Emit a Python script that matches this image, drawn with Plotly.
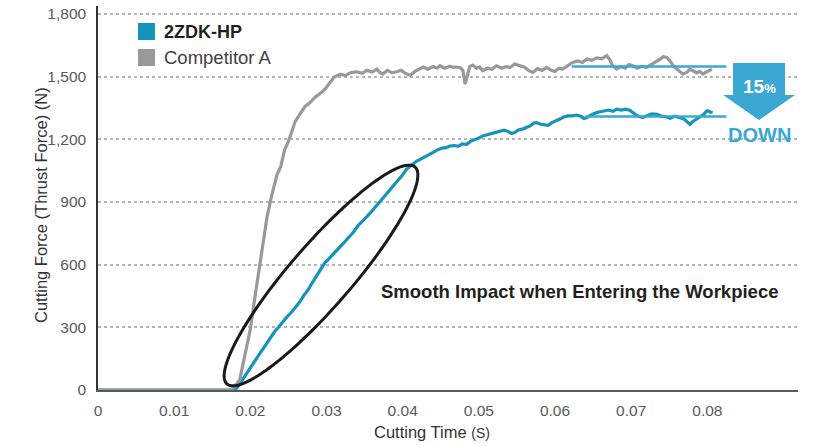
import math
import plotly.graph_objects as go

# ---- data -----------------------------------------------------------------
# Competitor A thrust force (N) against cutting time (s)
comp_time = [0, 0.0175, 0.0180, 0.0186, 0.0193, 0.0200, 0.0205, 0.0210, 0.0216, 0.0222,
             0.0228, 0.0235, 0.0240, 0.0245, 0.0250, 0.0255, 0.0259, 0.0265, 0.0272, 0.0278,
             0.0285, 0.0290, 0.0294, 0.0299, 0.0304, 0.0310, 0.0318, 0.0325, 0.0332, 0.0340,
             0.0347, 0.0353, 0.0360, 0.0366, 0.0370, 0.0374, 0.0380, 0.0386, 0.0392, 0.0398,
             0.0404, 0.0410, 0.0416, 0.0422, 0.0427, 0.0433, 0.0440, 0.0445, 0.0449, 0.0455,
             0.0462, 0.0467, 0.0471, 0.0476, 0.0479, 0.0482, 0.0485, 0.0488, 0.0492, 0.0497,
             0.0501, 0.0505, 0.0511, 0.0517, 0.0523, 0.0530, 0.0536, 0.0541, 0.0547, 0.0554,
             0.0560, 0.0565, 0.0571, 0.0577, 0.0583, 0.0589, 0.0595, 0.0600, 0.0605, 0.0610,
             0.0616, 0.0623, 0.0630, 0.0636, 0.0642, 0.0648, 0.0655, 0.0661, 0.0668, 0.0672,
             0.0676, 0.0681, 0.0686, 0.0692, 0.0697, 0.0702, 0.0708, 0.0714, 0.0720, 0.0726,
             0.0732, 0.0738, 0.0742, 0.0747, 0.0752, 0.0756, 0.0760, 0.0764, 0.0768, 0.0773,
             0.0777, 0.0781, 0.0786, 0.0790, 0.0794, 0.0798, 0.0802, 0.0806]
comp_force = [0, 0, 20, 48, 170, 290, 420, 545, 690, 830,
              930, 1030, 1070, 1150, 1190, 1240, 1286, 1320, 1358, 1375,
              1402, 1415, 1426, 1445, 1472, 1498, 1512, 1505, 1520, 1523,
              1516, 1530, 1522, 1536, 1520, 1512, 1530, 1518, 1523, 1530,
              1515, 1507, 1525, 1538, 1546, 1535, 1548, 1540, 1552, 1540,
              1550, 1544, 1546, 1542, 1530, 1464, 1510, 1548, 1555, 1540,
              1546, 1528, 1540, 1535, 1552, 1540, 1548, 1544, 1560, 1552,
              1545, 1530, 1520, 1538, 1530, 1544, 1530, 1525, 1540, 1536,
              1552, 1568, 1575, 1568, 1584, 1578, 1590, 1585, 1600, 1580,
              1550, 1536, 1548, 1540, 1558, 1552, 1540, 1550, 1544, 1556,
              1570, 1584, 1595, 1592, 1570, 1548, 1536, 1525, 1512, 1520,
              1535, 1528, 1518, 1525, 1512, 1520, 1530, 1536]

# 2ZDK-HP thrust force (N) against cutting time (s)
zdk_time = [0, 0.0180, 0.0186, 0.0192, 0.0200, 0.0207, 0.0213, 0.0220, 0.0226, 0.0232,
            0.0237, 0.0243, 0.0248, 0.0254, 0.0260, 0.0265, 0.0270, 0.0276, 0.0282, 0.0287,
            0.0292, 0.0298, 0.0303, 0.0309, 0.0314, 0.0318, 0.0323, 0.0329, 0.0335, 0.0341,
            0.0347, 0.0353, 0.0358, 0.0364, 0.0370, 0.0376, 0.0381, 0.0387, 0.0393, 0.0399,
            0.0405, 0.0410, 0.0414, 0.0418, 0.0423, 0.0428, 0.0434, 0.0440, 0.0446, 0.0452,
            0.0457, 0.0462, 0.0468, 0.0473, 0.0478, 0.0484, 0.0489, 0.0495, 0.0500, 0.0505,
            0.0511, 0.0517, 0.0522, 0.0528, 0.0533, 0.0538, 0.0543, 0.0547, 0.0552, 0.0558,
            0.0563, 0.0568, 0.0572, 0.0576, 0.0581, 0.0586, 0.0591, 0.0596, 0.0602, 0.0607,
            0.0612, 0.0617, 0.0623, 0.0628, 0.0634, 0.0638, 0.0642, 0.0648, 0.0655, 0.0663,
            0.0670, 0.0676, 0.0681, 0.0687, 0.0692, 0.0698, 0.0703, 0.0708, 0.0715, 0.0720,
            0.0727, 0.0734, 0.0740, 0.0746, 0.0751, 0.0757, 0.0764, 0.0769, 0.0773, 0.0777,
            0.0781, 0.0786, 0.0790, 0.0795, 0.0799, 0.0801, 0.0804, 0.0807]
zdk_force = [0, 0, 28, 62, 110, 145, 178, 215, 250, 280,
             300, 330, 350, 372, 400, 422, 452, 480, 518, 545,
             575, 610, 628, 650, 672, 686, 705, 730, 754, 785,
             805, 830, 850, 875, 898, 925, 945, 974, 1000, 1025,
             1056, 1070, 1080, 1095, 1104, 1115, 1128, 1137, 1150, 1158,
             1160, 1168, 1170, 1166, 1178, 1176, 1190, 1198, 1206, 1216,
             1222, 1230, 1236, 1240, 1244, 1238, 1228, 1232, 1245, 1250,
             1256, 1265, 1278, 1280, 1272, 1270, 1267, 1280, 1288, 1298,
             1308, 1312, 1312, 1316, 1310, 1300, 1304, 1318, 1328, 1336,
             1340, 1334, 1344, 1340, 1344, 1339, 1326, 1312, 1304, 1310,
             1322, 1320, 1310, 1308, 1301, 1310, 1304, 1298, 1285, 1272,
             1285, 1296, 1304, 1318, 1335, 1336, 1330, 1328]

# steady-state levels
comp_plateau = 1549
zdk_plateau = 1309
comp_plateau_span = [0.0622, 0.0825]
zdk_plateau_span = [0.0640, 0.0825]

x_tickvals = [0, 0.01, 0.02, 0.03, 0.04, 0.05, 0.06, 0.07, 0.08]
x_ticktext = ["0", "0.01", "0.02", "0.03", "0.04", "0.05", "0.06", "0.07", "0.08"]
y_tickvals = [0, 300, 600, 900, 1200, 1500, 1800]

series_names = ["2ZDK-HP", "Competitor A"]

# ---- styling --------------------------------------------------------------
W, H = 817, 446
M_L, M_R, M_T, M_B = 98, 19, 6, 56
X_RANGE = [0, 0.0919]
Y_RANGE = [0, 1838]
PW, PH = W - M_L - M_R, H - M_T - M_B

BLUE = "#1593b8"
BLUE_LIGHT = "#3aa8d2"
GRAY = "#98999d"
FONT = "Liberation Sans, Arial, sans-serif"

drop_pct = round((1 - zdk_plateau / comp_plateau) * 100)


def px_to_data(px, py):
    """Convert page pixels to data coordinates of the plot area."""
    t = X_RANGE[0] + (px - M_L) / PW * (X_RANGE[1] - X_RANGE[0])
    f = Y_RANGE[0] + (M_T + PH - py) / PH * (Y_RANGE[1] - Y_RANGE[0])
    return t, f


def data_to_px(t, f):
    px = M_L + (t - X_RANGE[0]) / (X_RANGE[1] - X_RANGE[0]) * PW
    py = M_T + PH - (f - Y_RANGE[0]) / (Y_RANGE[1] - Y_RANGE[0]) * PH
    return px, py


def paper(px, py):
    return (px - M_L) / PW, (M_T + PH - py) / PH


fig = go.Figure()

fig.add_trace(go.Scatter(x=zdk_time, y=zdk_force, mode="lines", name=series_names[0],
                         line=dict(color=BLUE, width=3.2), cliponaxis=False, showlegend=False))
fig.add_trace(go.Scatter(x=comp_time, y=comp_force, mode="lines", name=series_names[1],
                         line=dict(color=GRAY, width=3.2), cliponaxis=False, showlegend=False))

# plateau reference lines
fig.add_trace(go.Scatter(x=comp_plateau_span, y=[comp_plateau] * 2, mode="lines",
                         line=dict(color=BLUE_LIGHT, width=2.5), showlegend=False))
fig.add_trace(go.Scatter(x=zdk_plateau_span, y=[zdk_plateau] * 2, mode="lines",
                         line=dict(color=BLUE_LIGHT, width=2.5), showlegend=False))

shapes = []

# ellipse around the entry phase of 2ZDK-HP
ell_a = px_to_data(227, 384)
ell_b = px_to_data(415, 167)
p1 = data_to_px(*ell_a)
p2 = data_to_px(*ell_b)
cx, cy = (p1[0] + p2[0]) / 2, (p1[1] + p2[1]) / 2
semi_major = math.hypot(p2[0] - p1[0], p2[1] - p1[1]) / 2
semi_minor = 31
ang = math.atan2(p2[1] - p1[1], p2[0] - p1[0])
pts = []
for i in range(121):
    th = 2 * math.pi * i / 120
    ex = semi_major * math.cos(th)
    ey = semi_minor * math.sin(th)
    qx = cx + ex * math.cos(ang) - ey * math.sin(ang)
    qy = cy + ex * math.sin(ang) + ey * math.cos(ang)
    pts.append(px_to_data(qx, qy))
path = "M " + " L ".join(f"{t:.6f},{f:.2f}" for t, f in pts) + " Z"
shapes.append(dict(type="path", path=path, xref="x", yref="y",
                   line=dict(color="#1a1a1a", width=3), layer="above"))

# downward arrow
arrow_px = [(733, 63), (785, 63), (785, 95), (795, 95), (759, 120), (723, 95), (733, 95)]
arrow_pts = [px_to_data(*p) for p in arrow_px]
arrow_path = "M " + " L ".join(f"{t:.6f},{f:.2f}" for t, f in arrow_pts) + " Z"
shapes.append(dict(type="path", path=arrow_path, xref="x", yref="y",
                   fillcolor=BLUE_LIGHT, line=dict(width=0), layer="above"))

# legend swatches
for (y0, y1), col in zip([(23, 40), (49, 66)], [BLUE, GRAY]):
    x0p, y0p = paper(138, y1)
    x1p, y1p = paper(155, y0)
    shapes.append(dict(type="rect", xref="paper", yref="paper", x0=x0p, x1=x1p,
                       y0=y0p, y1=y1p, fillcolor=col, line=dict(width=0)))

annotations = []
lx, ly1 = paper(162, 32)
_, ly2 = paper(162, 58)
annotations.append(dict(xref="paper", yref="paper", x=lx, y=ly1, xanchor="left", yanchor="middle",
                        text=f"<b>{series_names[0]}</b>", showarrow=False,
                        font=dict(family=FONT, size=18, color="#231f20")))
annotations.append(dict(xref="paper", yref="paper", x=lx, y=ly2, xanchor="left", yanchor="middle",
                        text=series_names[1], showarrow=False,
                        font=dict(family=FONT, size=18.5, color="#414042")))

t_pct, f_pct = px_to_data(759, 86)
annotations.append(dict(x=t_pct, y=f_pct, xref="x", yref="y", showarrow=False,
                        xanchor="center", yanchor="middle",
                        text=f"<b>{drop_pct}</b><span style='font-size:13px'><b>%</b></span>",
                        font=dict(family=FONT, size=19, color="white")))
t_dn, f_dn = px_to_data(759, 135)
annotations.append(dict(x=t_dn, y=f_dn, xref="x", yref="y", showarrow=False,
                        xanchor="center", yanchor="middle",
                        text="<b>DOWN</b>", font=dict(family=FONT, size=20, color=BLUE_LIGHT)))

t_sm, f_sm = px_to_data(579, 291)
annotations.append(dict(x=t_sm, y=f_sm, xref="x", yref="y", showarrow=False,
                        xanchor="center", yanchor="middle",
                        text="<b>Smooth Impact when Entering the Workpiece</b>",
                        font=dict(family=FONT, size=18.5, color="#231f20")))

# axis titles
yx, yy = paper(41, 205)
annotations.append(dict(xref="paper", yref="paper", x=yx, y=yy, textangle=-90, showarrow=False,
                        xanchor="center", yanchor="middle",
                        text="Cutting Force (Thrust Force) (N)",
                        font=dict(family=FONT, size=16.5, color="#333333")))
xx, xy = paper(432, 432)
annotations.append(dict(xref="paper", yref="paper", x=xx, y=xy, showarrow=False,
                        xanchor="center", yanchor="middle",
                        text="Cutting Time <span style='font-size:14px'>(S)</span>",
                        font=dict(family=FONT, size=16.5, color="#333333")))

fig.update_layout(
    width=W, height=H,
    margin=dict(l=M_L, r=M_R, t=M_T, b=M_B, pad=0),
    paper_bgcolor="white", plot_bgcolor="white",
    showlegend=False,
    shapes=shapes, annotations=annotations,
    font=dict(family=FONT),
    xaxis=dict(range=X_RANGE, tickvals=x_tickvals, ticktext=x_ticktext,
               showgrid=False, zeroline=False, showline=True,
               linecolor="#58595b", linewidth=1.5, ticks="",
               ticklabelstandoff=6,
               tickfont=dict(family=FONT, size=15.5, color="#58595b")),
    yaxis=dict(range=Y_RANGE, tickvals=y_tickvals, tickformat=",",
               showgrid=True, gridcolor="#b5b5b5", griddash="dot", gridwidth=1.5,
               zeroline=False, showline=True, linecolor="#333333", linewidth=1.5,
               ticks="", ticklabelstandoff=7,
               tickfont=dict(family=FONT, size=15.5, color="#58595b")),
)

fig.write_html("out.html")
